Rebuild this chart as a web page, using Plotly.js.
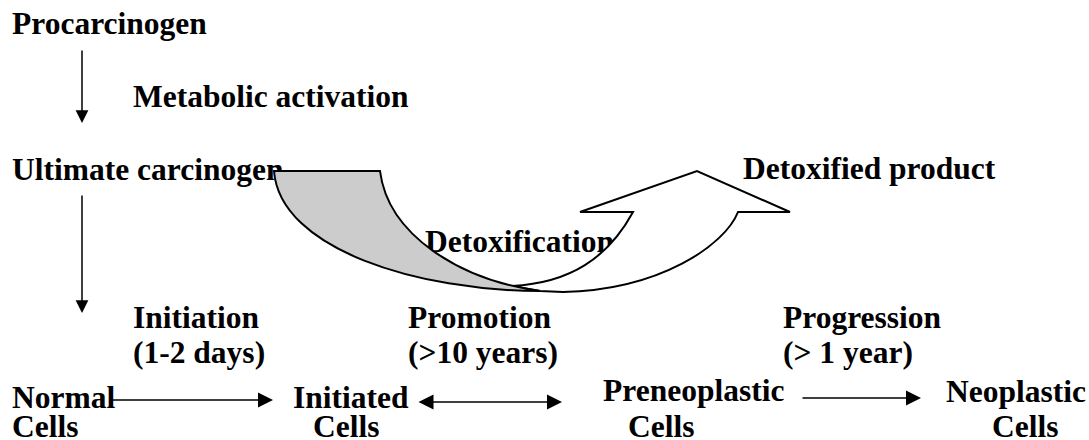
<!DOCTYPE html>
<html>
<head>
<meta charset="utf-8">
<script src="https://cdn.plot.ly/plotly-3.0.1.min.js"></script>
<style>html,body{margin:0;padding:0;background:#fff;}#chart{width:1089px;height:440px;}</style>
</head>
<body>
<div id="chart"></div>
<script>
// Diagram labels (one entry per text line)
var labels = [
  "Procarcinogen", "Metabolic activation", "Ultimate carcinogen",
  "Detoxified product", "Detoxification",
  "Initiation", "(1-2 days)", "Promotion", "(>10 years)",
  "Progression", "(> 1 year)",
  "Normal", "Cells", "Initiated", "Cells",
  "Preneoplastic", "Cells", "Neoplastic", "Cells"
];
// Left edge and baseline of each label (pixel coordinates of the diagram)
var labelLeft = [12, 133, 12, 743, 425, 133, 133, 408, 408, 783, 783, 12, 12, 293, 313, 603, 628, 946, 992];
var labelBase = [34, 107, 180, 179, 252, 328, 363, 328, 363, 328, 363, 408, 437, 408, 437, 401, 437, 402, 437];

// Straight arrows: tail -> head
var arrowTailX = [82, 82, 110, 418, 802];
var arrowTailY = [50, 195, 400, 402, 398];
var arrowHeadX = [82, 82, 273, 562, 921];
var arrowHeadY = [123, 313, 400, 402, 398];
var arrowBoth  = [false, false, false, true, false];
var arrowSize  = [1.7, 1.7, 2, 2, 2];

// Curved block arrows (paths in diagram coordinates)
var whiteArrowPath = "M512,286 C570,283 608,258 633,212 L580,212 L697,171 L790,212 L738,212 C725,245 660,290 563,292 L540,291 Z";
var grayBandPath = "M274,171 L380,171 C388,235 460,280 540,291 C420,291 280,250 274,171 Z";

var FS = 31.5;
var SERIF = "'Times New Roman', 'Liberation Serif', serif";
var textY = labelBase.map(function(b){ return b - 0.25 * FS; });

var traces = [{
  type: "scatter",
  mode: "text",
  x: labelLeft,
  y: textY,
  text: labels,
  textposition: "middle right",
  textfont: {family: SERIF, size: FS, color: "#000000", weight: 700},
  hoverinfo: "skip",
  showlegend: false,
  cliponaxis: false
}];

var annotations = arrowTailX.map(function(tx, i){
  return {
    x: arrowHeadX[i], y: arrowHeadY[i], xref: "x", yref: "y",
    ax: tx, ay: arrowTailY[i], axref: "x", ayref: "y",
    text: "", font: {size: 1}, borderpad: 0,
    showarrow: true, arrowhead: 2, arrowsize: arrowSize[i], arrowwidth: 1.5,
    arrowcolor: "#000", arrowside: arrowBoth[i] ? "end+start" : "end",
    startarrowhead: 2, startarrowsize: arrowSize[i], standoff: 0, startstandoff: 0
  };
});

var shapes = [
  {type: "path", xref: "x", yref: "y", path: whiteArrowPath, fillcolor: "#ffffff", line: {color: "#000", width: 2}, layer: "above"},
  {type: "path", xref: "x", yref: "y", path: grayBandPath, fillcolor: "#cccccc", line: {color: "#000", width: 2}, layer: "above"}
];

var layout = {
  width: 1089, height: 440,
  margin: {l: 0, r: 0, t: 0, b: 0, pad: 0},
  paper_bgcolor: "#ffffff", plot_bgcolor: "#ffffff",
  font: {family: SERIF},
  xaxis: {range: [0, 1089], visible: false, fixedrange: true},
  yaxis: {range: [440, 0], visible: false, fixedrange: true},
  showlegend: false,
  shapes: shapes,
  annotations: annotations
};

Plotly.newPlot("chart", traces, layout, {displayModeBar: false, staticPlot: true});
</script>
</body>
</html>
